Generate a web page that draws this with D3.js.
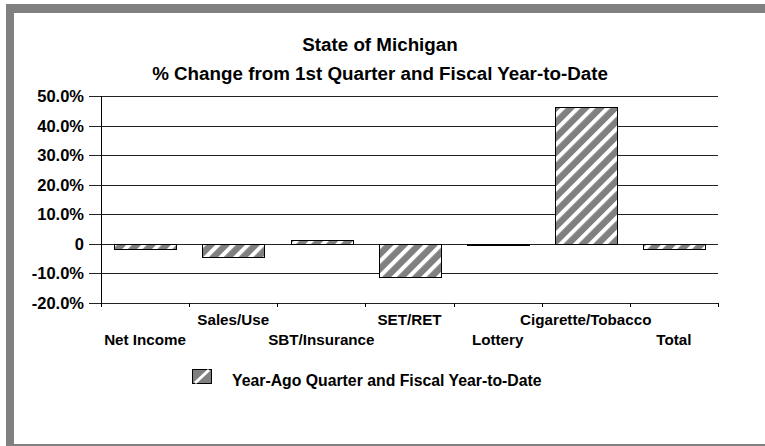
<!DOCTYPE html>
<html>
<head>
<meta charset="utf-8">
<script src="https://cdn.jsdelivr.net/npm/d3@7"></script>
<style>
  html, body { margin: 0; padding: 0; background: #fff; }
  svg { display: block; }
  text { font-family: "Liberation Sans", Arial, sans-serif; font-weight: bold; fill: #000; }
</style>
</head>
<body>
<svg id="chart" width="765" height="446"></svg>
<script>
const titleLines = ["State of Michigan", "% Change from 1st Quarter and Fiscal Year-to-Date"];
const categories = ["Net Income", "Sales/Use", "SBT/Insurance", "SET/RET", "Lottery", "Cigarette/Tobacco", "Total"];
const values = [-1.6, -4.5, 1.3, -11.3, -0.5, 46.2, -1.8];
const yTicks = [-20, -10, 0, 10, 20, 30, 40, 50];
const yTickLabels = ["-20.0%", "-10.0%", "0", "10.0%", "20.0%", "30.0%", "40.0%", "50.0%"];
const seriesName = "Year-Ago Quarter and Fiscal Year-to-Date";

const svg = d3.select("#chart");

// frame
svg.append("rect").attr("x", 6).attr("y", 4).attr("width", 759).attr("height", 442).attr("fill", "#808080");
svg.append("rect").attr("x", 14).attr("y", 13).attr("width", 751).attr("height", 431).attr("fill", "#fff");

// pattern
const defs = svg.append("defs");
const pat = defs.append("pattern")
  .attr("id", "stripes")
  .attr("patternUnits", "userSpaceOnUse")
  .attr("width", 10.5).attr("height", 10.5)
  .attr("patternTransform", "rotate(45)");
pat.append("rect").attr("width", 10.5).attr("height", 10.5).attr("fill", "#808080");
pat.append("rect").attr("x", 0).attr("width", 4).attr("height", 10.5).attr("fill", "#fff");

const pLeft = 101, pRight = 718, pTop = 96, pBottom = 303;
const x = d3.scaleBand().domain(categories).range([pLeft, pRight]).paddingInner(0.3).paddingOuter(0.15);
const y = d3.scaleLinear().domain([-20, 50]).range([pBottom, pTop]);

// titles
svg.selectAll("text.title").data(titleLines).enter().append("text")
  .attr("class", "title")
  .attr("x", 380).attr("y", (d, i) => 51 + i * 29)
  .attr("text-anchor", "middle")
  .style("font-size", "18.8px")
  .text(d => d);

// gridlines
const g = svg.append("g");
g.selectAll("line.grid").data(yTicks).enter().append("line")
  .attr("x1", pLeft - 12).attr("x2", pRight)
  .attr("y1", d => Math.round(y(d)) + 0.5).attr("y2", d => Math.round(y(d)) + 0.5)
  .attr("stroke", "#222").attr("stroke-width", 1);

// y labels
g.selectAll("text.ylab").data(yTicks).enter().append("text")
  .attr("x", pLeft - 17)
  .attr("y", d => Math.round(y(d)) + 6)
  .attr("text-anchor", "end")
  .style("font-size", "16.5px")
  .text((d, i) => yTickLabels[i]);

// y axis line
g.append("line").attr("x1", pLeft + 0.5).attr("x2", pLeft + 0.5).attr("y1", pTop).attr("y2", pBottom + 1)
  .attr("stroke", "#000");

// x ticks
const step = x.step();
const boundaries = d3.range(categories.length + 1).map(i => pLeft + i * step);
g.selectAll("line.xt").data(boundaries).enter().append("line")
  .attr("x1", d => Math.round(d) + 0.5).attr("x2", d => Math.round(d) + 0.5)
  .attr("y1", pBottom).attr("y2", pBottom + 4)
  .attr("stroke", "#000");

// bars
g.selectAll("rect.bar").data(values).enter().append("rect")
  .attr("x", (d, i) => Math.round(x(categories[i])) + 0.5)
  .attr("width", Math.round(x.bandwidth()))
  .attr("y", d => Math.round(y(Math.max(0, d))) + 0.5)
  .attr("height", d => Math.max(1, Math.round(Math.abs(y(d) - y(0)))))
  .attr("fill", "url(#stripes)")
  .attr("stroke", "#000").attr("stroke-width", 1);

// x labels (staggered)
g.selectAll("text.xlab").data(categories).enter().append("text")
  .attr("x", d => x(d) + x.bandwidth() / 2)
  .attr("y", (d, i) => i % 2 === 0 ? 345 : 325)
  .attr("text-anchor", "middle")
  .style("font-size", "15.2px")
  .text(d => d);

// legend
const lg = svg.append("g");
lg.append("rect").attr("x", 192.5).attr("y", 369.5).attr("width", 19).attr("height", 14)
  .attr("fill", "#808080").attr("stroke", "#000");
lg.append("line").attr("x1", 195).attr("y1", 383).attr("x2", 209).attr("y2", 370)
  .attr("stroke", "#fff").attr("stroke-width", 3);
lg.append("text").attr("x", 232).attr("y", 386).style("font-size", "15.8px").text(seriesName);
</script>
</body>
</html>
